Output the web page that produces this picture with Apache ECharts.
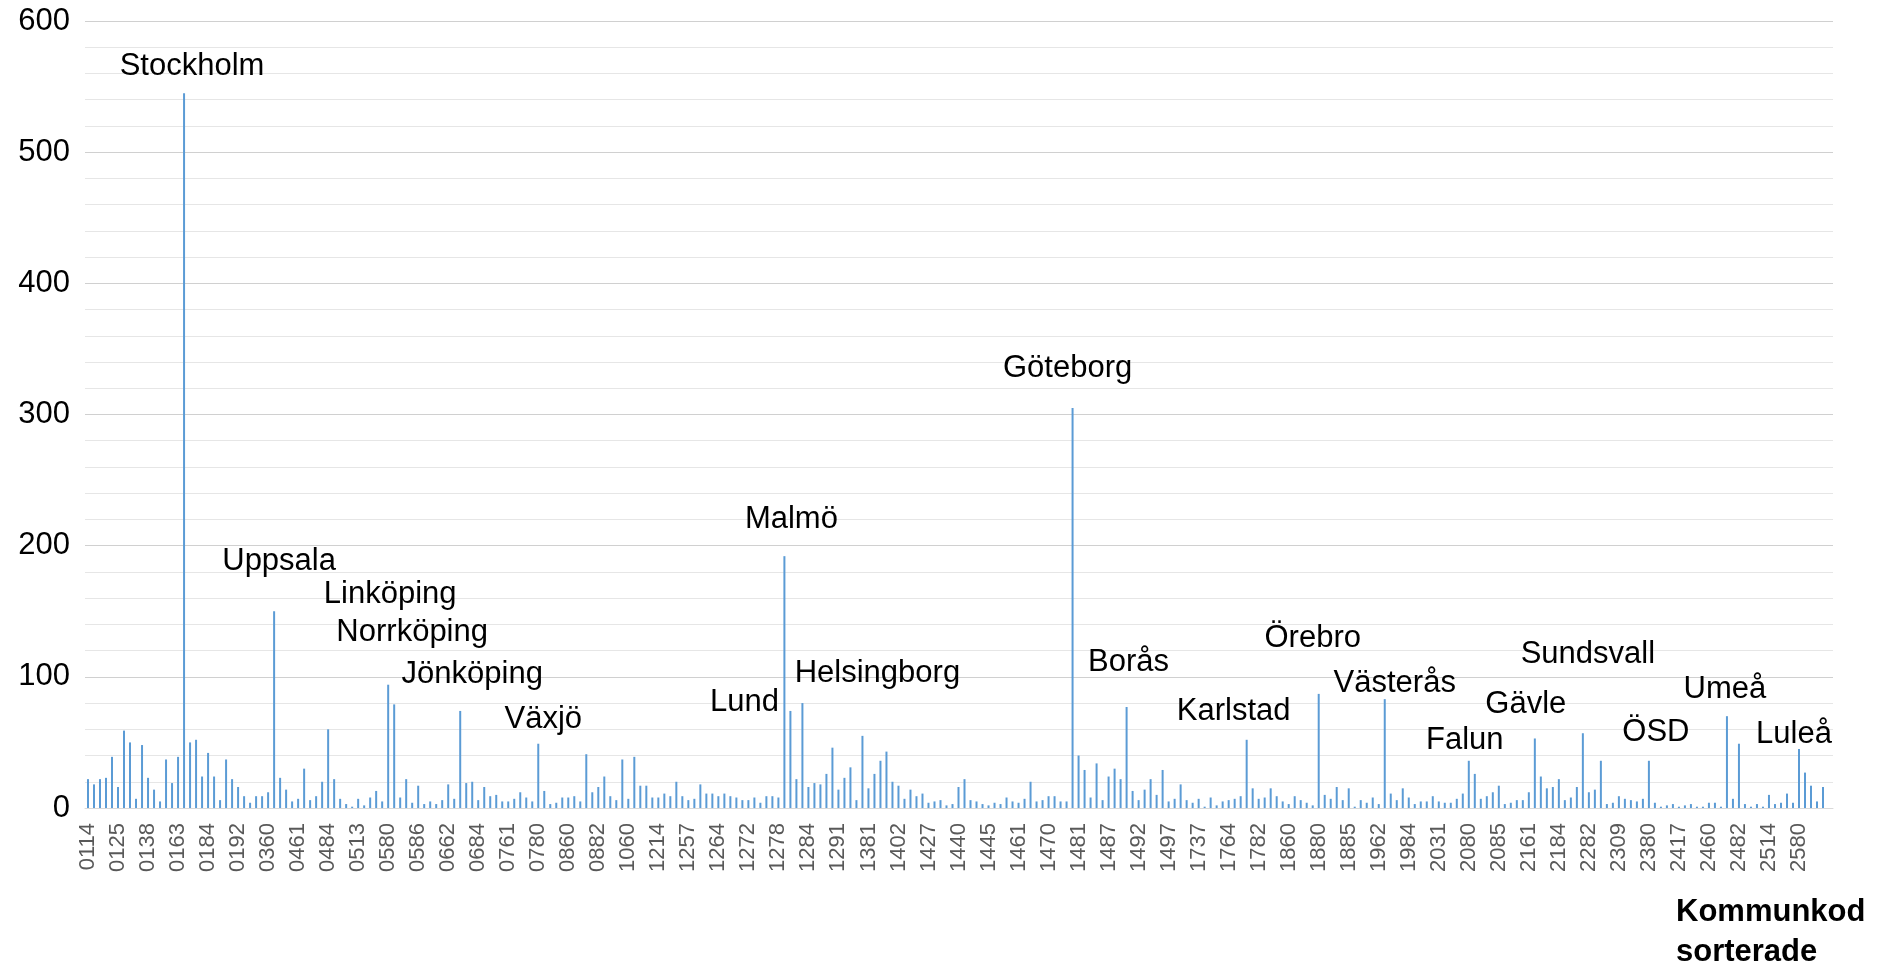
<!DOCTYPE html>
<html>
<head>
<meta charset="utf-8">
<script src="https://cdn.jsdelivr.net/npm/echarts@6/dist/echarts.min.js"></script>
<style>html,body{margin:0;padding:0;background:#fff;}#c{width:1881px;height:967px;}</style>
</head>
<body>
<div id="c"></div>
<script>
const codes = ['0114','0115','0117','0120','0123','0125','0126','0127','0128','0136','0138','0139','0140','0160','0162','0163','0180','0181','0182','0183','0184','0186','0187','0188','0191','0192',
'0305','0319','0330','0331','0360','0380','0381','0382',
'0428','0461','0480','0481','0482','0483','0484','0486','0488',
'0509','0512','0513','0560','0561','0562','0563','0580','0581','0582','0583','0584','0586',
'0604','0617','0642','0643','0662','0665','0680','0682','0683','0684','0685','0686','0687',
'0760','0761','0763','0764','0765','0767','0780','0781',
'0821','0834','0840','0860','0861','0862','0880','0881','0882','0883','0884','0885',
'0980','1060','1080','1081','1082','1083',
'1214','1230','1231','1233','1256','1257','1260','1261','1262','1263','1264','1265','1266','1267','1270','1272','1273','1275','1276','1277','1278','1280','1281','1282','1283','1284','1285','1286','1287','1290','1291','1292','1293',
'1315','1380','1381','1382','1383','1384',
'1401','1402','1407','1415','1419','1421','1427','1430','1435','1438','1439','1440','1441','1442','1443','1444','1445','1446','1447','1452','1460','1461','1462','1463','1465','1466','1470','1471','1472','1473','1480','1481','1482','1484','1485','1486','1487','1488','1489','1490','1491','1492','1493','1494','1495','1496','1497','1498','1499',
'1715','1730','1737','1760','1761','1762','1763','1764','1765','1766','1780','1781','1782','1783','1784','1785',
'1814','1860','1861','1862','1863','1864','1880','1881','1882','1883','1884','1885',
'1904','1907','1960','1961','1962','1980','1981','1982','1983','1984',
'2021','2023','2026','2029','2031','2034','2039','2061','2062','2080','2081','2082','2083','2084','2085',
'2101','2104','2121','2132','2161','2180','2181','2182','2183','2184',
'2260','2262','2280','2281','2282','2283','2284',
'2303','2305','2309','2313','2321','2326','2361','2380',
'2401','2403','2404','2409','2417','2418','2421','2422','2425','2460','2462','2463','2480','2481','2482',
'2505','2506','2510','2513','2514','2518','2521','2523','2560','2580','2581','2582','2583','2584'];

const values = [22,18,22,23,39,16,59,50,7,48,23,14,5,37,19,39,545,50,52,24,42,24,6,37,22,16,
9,4,9,9,12,150,23,14,
5,7,30,6,9,20,60,22,7,
3,1,7,2,8,13,5,94,79,8,22,4,17,
3,5,3,6,18,7,74,19,20,6,16,9,10,
5,5,7,12,8,5,49,13,
3,4,8,8,9,5,41,12,16,24,9,6,
37,7,39,17,17,8,
8,11,9,20,9,6,7,18,11,11,9,11,9,8,6,6,8,4,9,9,8,192,74,22,80,16,19,18,26,46,14,23,31,
6,55,15,26,36,43,
20,17,7,14,9,11,4,5,6,2,3,16,22,6,5,3,2,4,3,8,5,4,7,20,5,6,9,9,5,5,305,40,29,8,34,6,24,30,22,77,13,6,14,22,10,29,5,7,18,
6,4,7,1,8,2,5,6,7,9,52,15,7,8,15,9,
5,3,9,6,4,2,87,10,7,16,6,15,
1,6,4,8,3,83,11,6,15,8,
3,5,5,9,5,4,4,7,11,36,26,7,9,12,17,
3,4,6,6,12,53,24,15,16,22,
6,8,16,57,12,14,36,
3,4,9,7,6,5,7,36,
4,1,2,3,1,2,3,1,1,4,4,1,70,7,49,
3,1,3,1,10,3,4,11,4,45,27,17,5,16];

const cityCodes = ['0180','0380','0580','0581','0680','0780','1280','1281','1283','1480','1490','1780','1880','1980','2080','2180','2281','2380','2480','2580'];
const cityNames = ['Stockholm','Uppsala','Linköping','Norrköping','Jönköping','Växjö','Malmö','Lund','Helsingborg','Göteborg','Borås','Karlstad','Örebro','Västerås','Falun','Gävle','Sundsvall','ÖSD','Umeå','Luleå'];

const yTicks = {min: 0, max: 600, step: 100};

// label placement (layout only, pixels relative to the bar top)
const labelOffsets = {
  'Stockholm':[8,-6],'Uppsala':[5,-29],'Linköping':[2,-70],'Norrköping':[18,-51],'Jönköping':[12,-16],
  'Växjö':[5,-4],'Malmö':[7,-16],'Lund':[-46,12],'Helsingborg':[75,-9],'Göteborg':[-5,-19],
  'Borås':[2,-24],'Karlstad':[-13,-8],'Örebro':[-6,-35],'Västerås':[10,5],'Falun':[-4,0],
  'Gävle':[-9,-14],'Sundsvall':[5,-58],'ÖSD':[7,-8],'Umeå':[-2,-6],'Luleå':[-5,6]
};

const FONT = "'Liberation Sans', Arial, sans-serif";

const barData = values.map((v, i) => {
  const k = cityCodes.indexOf(codes[i]);
  if (k < 0) return v;
  const name = cityNames[k];
  return {
    value: v,
    label: {show: true, position: 'top', formatter: name, offset: labelOffsets[name] || [0,0]}
  };
});

const chart = echarts.init(document.getElementById('c'), null, {renderer: 'canvas'});
chart.setOption({
  animation: false,
  backgroundColor: '#fff',
  textStyle: {fontFamily: FONT},
  grid: [
    {left: 85, right: 48, top: 21, bottom: 159, containLabel: false},
    {left: 85, right: 55, top: 21, bottom: 159, containLabel: false}
  ],
  xAxis: [{
    gridIndex: 0, type: 'value', min: 0, max: 1,
    axisLabel: {show: false}, axisTick: {show: false}, splitLine: {show: false},
    axisLine: {show: true, lineStyle: {color: '#d9d9d9', width: 1}}
  }, {
    gridIndex: 1,
    type: 'category',
    data: codes,
    axisTick: {show: false},
    axisLine: {show: false},
    axisLabel: {interval: 4, rotate: 90, fontSize: 22, color: '#595959', margin: 15, fontFamily: FONT},
    splitLine: {show: false}
  }],
  yAxis: [{
    gridIndex: 0,
    type: 'value',
    min: yTicks.min, max: yTicks.max, interval: yTicks.step,
    axisLine: {show: false},
    axisTick: {show: false},
    axisLabel: {fontSize: 31, color: '#000', margin: 15, fontFamily: FONT},
    splitLine: {show: true, lineStyle: {color: '#d0d0d0', width: 1}},
    minorTick: {show: false, splitNumber: 5},
    minorSplitLine: {show: true, lineStyle: {color: '#e6e6e6', width: 1}}
  }, {
    gridIndex: 1,
    type: 'value',
    min: yTicks.min, max: yTicks.max, interval: yTicks.step,
    show: false
  }],
  series: [{
    type: 'bar',
    xAxisIndex: 1,
    yAxisIndex: 1,
    data: barData,
    barWidth: 2,
    itemStyle: {color: '#5b9bd5'},
    label: {show: false, fontSize: 31, color: '#000', fontFamily: FONT, distance: 5}
  }],
  graphic: [{
    type: 'text',
    left: 1676,
    top: 892,
    style: {text: 'Kommunkod\nsorterade', font: "bold 31px 'Liberation Sans', Arial, sans-serif", fill: '#000', lineHeight: 40}
  }]
});
</script>
</body>
</html>
